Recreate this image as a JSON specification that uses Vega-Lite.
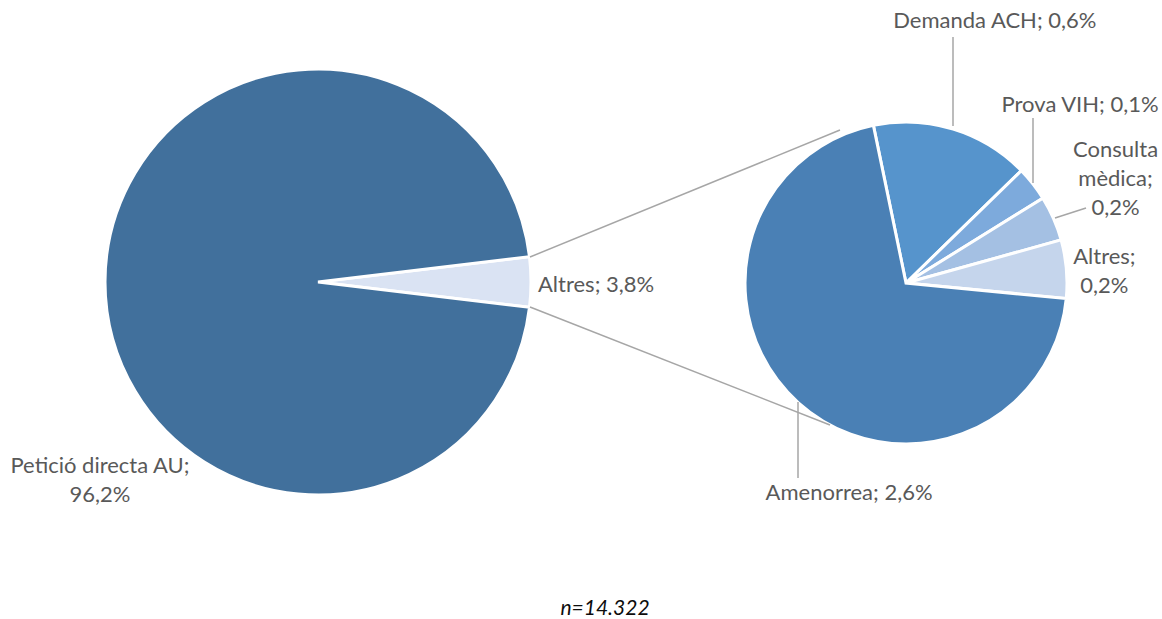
{
  "$schema": "https://vega.github.io/schema/vega-lite/v6.json",
  "width": 1162,
  "height": 564,
  "autosize": {"type": "none"},
  "padding": {"left": 0, "top": 0, "right": 0, "bottom": 55},
  "background": "white",
  "config": {
    "view": {"stroke": null},
    "font": "Lato",
    "text": {"font": "Lato", "fontSize": 22, "lineHeight": 29, "lineBreak": "\n"}
  },
  "title": {
    "text": "n=14.322",
    "orient": "bottom",
    "anchor": "middle",
    "frame": "group",
    "offset": 51,
    "baseline": "alphabetic",
    "dx": 24,
    "font": "Lato",
    "fontSize": 21,
    "fontStyle": "italic",
    "fontWeight": "normal",
    "color": "#0d0d0d"
  },
  "datasets": {
    "main": [
      {"pie": "main", "rank": 1, "cat": "Altres", "value": 3.8, "label": "Altres; 3,8%"},
      {"pie": "main", "rank": 2, "cat": "Petició directa AU", "value": 96.2, "label": "Petició directa AU;\n96,2%"}
    ],
    "detail": [
      {"pie": "detail", "rank": 1, "cat": "Demanda ACH", "value": 0.6, "label": "Demanda ACH; 0,6%"},
      {"pie": "detail", "rank": 2, "cat": "Prova VIH", "value": 0.13, "label": "Prova VIH; 0,1%"},
      {"pie": "detail", "rank": 3, "cat": "Consulta mèdica", "value": 0.17, "label": "Consulta\nmèdica;\n0,2%"},
      {"pie": "detail", "rank": 4, "cat": "Altres", "value": 0.22, "label": "Altres;\n0,2%"},
      {"pie": "detail", "rank": 5, "cat": "Amenorrea", "value": 2.64, "label": "Amenorrea; 2,6%"}
    ],
    "frame": [{}]
  },
  "layer": [
    {
      "data": {"name": "main"},
      "encoding": {
        "x": {"field": "pie", "type": "nominal", "axis": null, "scale": {"type": "point", "domain": ["main", "detail"], "range": [318, 906], "padding": 0}},
        "y": {"field": "pie", "type": "nominal", "axis": null, "scale": {"type": "point", "domain": ["main", "detail"], "range": [282, 283], "padding": 0}},
        "theta": {"field": "value", "type": "quantitative", "stack": true, "scale": {"range": [1.4514, 7.7346]}},
        "order": {"field": "rank", "type": "quantitative"},
        "color": {"field": "cat", "type": "nominal", "legend": null, "scale": {"domain": ["Altres", "Petició directa AU"], "range": ["#DAE3F3", "#41709C"]}}
      },
      "layer": [
        {"mark": {"type": "arc", "outerRadius": 213, "stroke": "white", "strokeWidth": 3}},
        {
          "mark": {"type": "text", "radius": 220, "align": "left", "baseline": "alphabetic", "dy": 10},
          "encoding": {"text": {"condition": {"test": "datum.cat === 'Altres'", "field": "label"}, "value": ""}, "color": {"value": "#595959"}}
        },
        {
          "mark": {"type": "text", "radius": 220, "align": "center", "baseline": "alphabetic", "dx": 2, "dy": 191},
          "encoding": {"text": {"condition": {"test": "datum.cat === 'Petició directa AU'", "field": "label"}, "value": ""}, "color": {"value": "#595959"}}
        }
      ]
    },
    {
      "data": {"name": "detail"},
      "encoding": {
        "x": {"field": "pie", "type": "nominal", "axis": null, "scale": {"type": "point", "domain": ["main", "detail"], "range": [318, 906], "padding": 0}},
        "y": {"field": "pie", "type": "nominal", "axis": null, "scale": {"type": "point", "domain": ["main", "detail"], "range": [282, 283], "padding": 0}},
        "theta": {"field": "value", "type": "quantitative", "stack": true, "scale": {"range": [-0.204, 6.0792]}},
        "order": {"field": "rank", "type": "quantitative"},
        "color": {"field": "cat", "type": "nominal", "legend": null, "scale": {"domain": ["Demanda ACH", "Prova VIH", "Consulta mèdica", "Altres", "Amenorrea"], "range": ["#5694CC", "#7DAADC", "#A4C0E3", "#C5D5EC", "#4A80B5"]}}
      },
      "layer": [
        {"mark": {"type": "arc", "outerRadius": 161, "stroke": "white", "strokeWidth": 3}},
        {
          "mark": {"type": "text", "radius": 160, "align": "center", "baseline": "alphabetic", "dx": 42, "dy": -102},
          "encoding": {"text": {"condition": {"test": "datum.cat === 'Demanda ACH'", "field": "label"}, "value": ""}, "color": {"value": "#595959"}}
        },
        {
          "mark": {"type": "text", "radius": 160, "align": "center", "baseline": "alphabetic", "dx": 48, "dy": -72},
          "encoding": {"text": {"condition": {"test": "datum.cat === 'Prova VIH'", "field": "label"}, "value": ""}, "color": {"value": "#595959"}}
        },
        {
          "mark": {"type": "text", "radius": 160, "align": "center", "baseline": "alphabetic", "dx": 63, "dy": -62},
          "encoding": {"text": {"condition": {"test": "datum.cat === 'Consulta mèdica'", "field": "label"}, "value": ""}, "color": {"value": "#595959"}}
        },
        {
          "mark": {"type": "text", "radius": 160, "align": "center", "baseline": "alphabetic", "dx": 39, "dy": -5},
          "encoding": {"text": {"condition": {"test": "datum.cat === 'Altres'", "field": "label"}, "value": ""}, "color": {"value": "#595959"}}
        },
        {
          "mark": {"type": "text", "radius": 160, "align": "center", "baseline": "alphabetic", "dx": 50, "dy": 98},
          "encoding": {"text": {"condition": {"test": "datum.cat === 'Amenorrea'", "field": "label"}, "value": ""}, "color": {"value": "#595959"}}
        }
      ]
    },
    {
      "data": {"name": "frame"},
      "mark": {"type": "rule", "color": "#A6A6A6", "strokeWidth": 1.5, "xOffset": 212, "yOffset": -25, "x2Offset": -66, "y2Offset": -153},
      "encoding": {"x": {"datum": "main", "type": "nominal"}, "x2": {"datum": "detail"}, "y": {"datum": "main", "type": "nominal"}, "y2": {"datum": "detail"}}
    },
    {
      "data": {"name": "frame"},
      "mark": {"type": "rule", "color": "#A6A6A6", "strokeWidth": 1.5, "xOffset": 212, "yOffset": 25, "x2Offset": -76, "y2Offset": 142},
      "encoding": {"x": {"datum": "main", "type": "nominal"}, "x2": {"datum": "detail"}, "y": {"datum": "main", "type": "nominal"}, "y2": {"datum": "detail"}}
    },
    {
      "data": {"name": "frame"},
      "mark": {"type": "rule", "color": "#A6A6A6", "strokeWidth": 1.5, "xOffset": 47, "yOffset": -157, "x2Offset": 47, "y2Offset": -246},
      "encoding": {"x": {"datum": "detail", "type": "nominal"}, "x2": {"datum": "detail"}, "y": {"datum": "detail", "type": "nominal"}, "y2": {"datum": "detail"}}
    },
    {
      "data": {"name": "frame"},
      "mark": {"type": "rule", "color": "#A6A6A6", "strokeWidth": 1.5, "xOffset": 127, "yOffset": -100, "x2Offset": 127, "y2Offset": -165},
      "encoding": {"x": {"datum": "detail", "type": "nominal"}, "x2": {"datum": "detail"}, "y": {"datum": "detail", "type": "nominal"}, "y2": {"datum": "detail"}}
    },
    {
      "data": {"name": "frame"},
      "mark": {"type": "rule", "color": "#A6A6A6", "strokeWidth": 1.5, "xOffset": 149, "yOffset": -65, "x2Offset": 180, "y2Offset": -75},
      "encoding": {"x": {"datum": "detail", "type": "nominal"}, "x2": {"datum": "detail"}, "y": {"datum": "detail", "type": "nominal"}, "y2": {"datum": "detail"}}
    },
    {
      "data": {"name": "frame"},
      "mark": {"type": "rule", "color": "#A6A6A6", "strokeWidth": 1.5, "xOffset": -108, "yOffset": 119, "x2Offset": -108, "y2Offset": 195},
      "encoding": {"x": {"datum": "detail", "type": "nominal"}, "x2": {"datum": "detail"}, "y": {"datum": "detail", "type": "nominal"}, "y2": {"datum": "detail"}}
    }
  ],
  "resolve": {"scale": {"theta": "independent", "color": "independent"}}
}
